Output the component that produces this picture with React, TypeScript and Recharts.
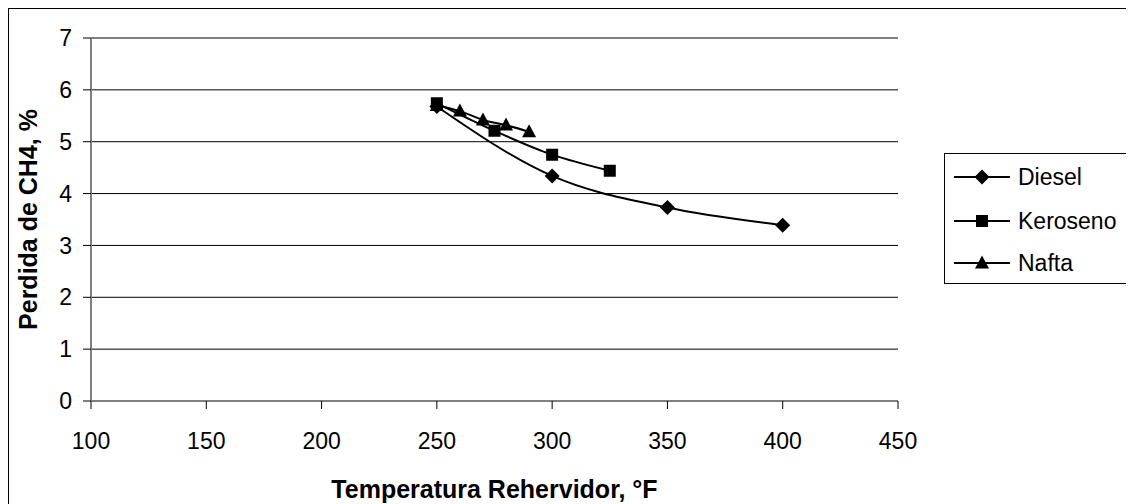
import React from "react";
import { LineChart, Line, XAxis, YAxis, CartesianGrid, Legend, Label } from "recharts";

const xTicks = [100, 150, 200, 250, 300, 350, 400, 450];
const yTicks = [0, 1, 2, 3, 4, 5, 6, 7];

const dieselT = [250, 300, 350, 400];
const dieselV = [5.68, 4.34, 3.73, 3.39];
const keroT = [250, 275, 300, 325];
const keroV = [5.74, 5.21, 4.75, 4.44];
const naftaT = [250, 260, 270, 280, 290];
const naftaV = [5.7, 5.59, 5.42, 5.32, 5.19];

const seriesNames = ["Diesel", "Keroseno", "Nafta"];

const toRows = (t: number[], v: number[]) => t.map((x, i) => ({ x, y: v[i] }));

const FONT = "Arial, 'Liberation Sans', sans-serif";

const markerPath = (kind: string, cx: number, cy: number) => {
  if (kind === "diamond") return `M${cx},${cy - 7.5}L${cx + 7.5},${cy}L${cx},${cy + 7.5}L${cx - 7.5},${cy}Z`;
  if (kind === "square") return `M${cx - 6},${cy - 6}h12v12h-12Z`;
  return `M${cx},${cy - 7.5}L${cx + 7},${cy + 5.5}L${cx - 7},${cy + 5.5}Z`;
};

const makeDot = (kind: string) => (props: any) => {
  const { cx, cy, index } = props;
  if (cx == null || cy == null) return <g key={index} />;
  return <path key={index} d={markerPath(kind, cx, cy)} fill="#000" stroke="none" />;
};

const kinds = ["diamond", "square", "triangle"];

const LegendBox = () => {
  const rowsY = [24, 68, 110];
  return (
    <svg width={190} height={132} style={{ display: "block" }}>
      <rect x={0.5} y={0.5} width={200} height={130} fill="#fff" stroke="#000" />
      {seriesNames.map((n, i) => (
        <g key={n}>
          <line x1={10} x2={66} y1={rowsY[i]} y2={rowsY[i]} stroke="#000" strokeWidth={2} />
          <path d={markerPath(kinds[i], 38, rowsY[i])} fill="#000" />
          <text x={74} y={rowsY[i]} dy="0.35em" fontSize={23} fontFamily={FONT} fill="#000">
            {n}
          </text>
        </g>
      ))}
    </svg>
  );
};

const YTitle = (props: any) => {
  const vb = props.viewBox || {};
  const cx = 19;
  const cy = vb.y + vb.height / 2;
  return (
    <text
      x={cx}
      y={cy}
      transform={`rotate(-90 ${cx} ${cy})`}
      textAnchor="middle"
      dy="0.36em"
      fontSize={25}
      fontWeight="bold"
      fontFamily={FONT}
      fill="#000"
    >
      Perdida de CH4, %
    </text>
  );
};

const XTitle = (props: any) => {
  const vb = props.viewBox || {};
  const cx = vb.x + vb.width / 2;
  const cy = 480;
  return (
    <text x={cx} y={cy} textAnchor="middle" dy="0.36em" fontSize={25} fontWeight="bold" fontFamily={FONT} fill="#000">
      Temperatura Rehervidor, °F
    </text>
  );
};

export default function App() {
  return (
    <div
      style={{
        width: 1125,
        height: 495,
        borderTop: "1px solid #000",
        borderLeft: "1px solid #000",
        position: "relative",
        background: "#fff",
      }}
    >
      <LineChart
        width={1125}
        height={495}
        margin={{ top: 29, right: 46, bottom: 0, left: 0 }}
        style={{ fontFamily: FONT }}
      >
        <CartesianGrid horizontal={true} vertical={false} stroke="#000" strokeWidth={1} />
        <XAxis
          type="number"
          dataKey="x"
          domain={[100, 450]}
          ticks={xTicks}
          allowDataOverflow
          height={103}
          tickSize={8}
          tickMargin={24}
          axisLine={{ stroke: "#808080", strokeWidth: 2 }}
          tickLine={{ stroke: "#000" }}
          tick={{ fill: "#000", fontSize: 23, fontFamily: FONT }}
        >
          <Label content={<XTitle />} />
        </XAxis>
        <YAxis
          type="number"
          domain={[0, 7]}
          ticks={yTicks}
          width={82}
          tickSize={8}
          tickMargin={11}
          axisLine={{ stroke: "#808080", strokeWidth: 2 }}
          tickLine={{ stroke: "#000" }}
          tick={{ fill: "#000", fontSize: 23, fontFamily: FONT }}
        >
          <Label content={<YTitle />} />
        </YAxis>
        <Legend
          layout="vertical"
          align="right"
          verticalAlign="middle"
          content={<LegendBox />}
          wrapperStyle={{ position: "absolute", left: 935, top: 144, width: 190, height: 132 }}
        />
        <Line
          name={seriesNames[0]}
          data={toRows(dieselT, dieselV)}
          dataKey="y"
          type="monotone"
          stroke="#000"
          strokeWidth={2}
          dot={makeDot("diamond")}
          activeDot={false}
          isAnimationActive={false}
        />
        <Line
          name={seriesNames[1]}
          data={toRows(keroT, keroV)}
          dataKey="y"
          type="monotone"
          stroke="#000"
          strokeWidth={2}
          dot={makeDot("square")}
          activeDot={false}
          isAnimationActive={false}
        />
        <Line
          name={seriesNames[2]}
          data={toRows(naftaT, naftaV)}
          dataKey="y"
          type="monotone"
          stroke="#000"
          strokeWidth={2}
          dot={makeDot("triangle")}
          activeDot={false}
          isAnimationActive={false}
        />
      </LineChart>
    </div>
  );
}
